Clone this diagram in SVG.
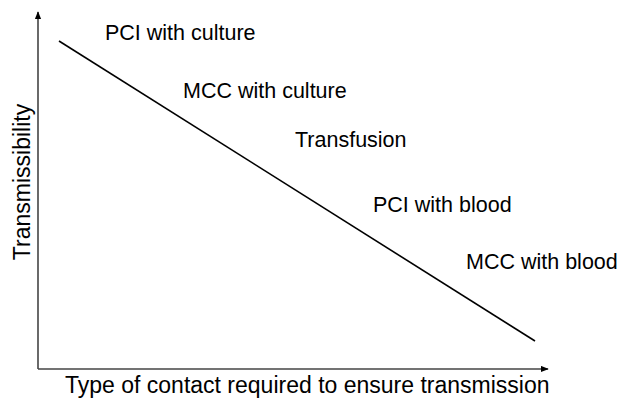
<svg xmlns="http://www.w3.org/2000/svg" width="621" height="398" viewBox="0 0 621 398">
<style>
text{font-family:"Liberation Sans",Arial,sans-serif;font-size:21.5px;fill:#000}
text.ax{font-size:23px}
.axis{stroke:#444;stroke-width:1.6;fill:none}
.diag{stroke:#000;stroke-width:1.6;fill:none}
</style>
<defs>
<marker id="ah" viewBox="0 0 10 8" refX="9" refY="4" markerWidth="8" markerHeight="7" markerUnits="userSpaceOnUse" orient="auto">
<path d="M0,0 L10,4 L0,8 Z" fill="#000"/>
</marker>
</defs>
<rect width="621" height="398" fill="#fff"/>
<g id="connectors">
<line class="axis" x1="38" y1="369" x2="38" y2="12" marker-end="url(#ah)"/>
<line class="axis" x1="38" y1="369" x2="548" y2="369" marker-end="url(#ah)"/>
<line class="diag" x1="59" y1="41" x2="535" y2="341"/>
</g>
<g id="labels">
<text x="105" y="40">PCI with culture</text>
<text x="183" y="98">MCC with culture</text>
<text x="295" y="147">Transfusion</text>
<text x="373" y="212">PCI with blood</text>
<text x="466" y="269">MCC with blood</text>
<text class="ax" x="65" y="393">Type of contact required to ensure transmission</text>
<text class="ax" transform="translate(30,182) rotate(-90)" text-anchor="middle">Transmissibility</text>
</g>
</svg>
